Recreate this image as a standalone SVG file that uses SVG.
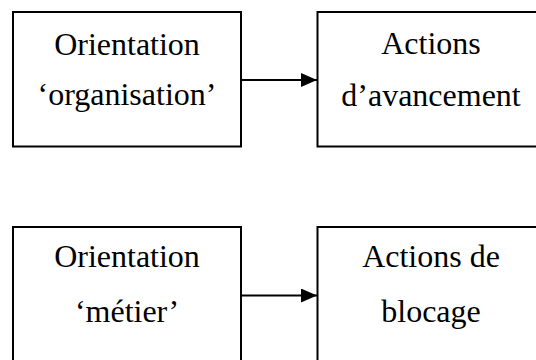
<svg xmlns="http://www.w3.org/2000/svg" width="536" height="360" viewBox="0 0 536 360">
<style>
.box{fill:#fff;stroke:#000;stroke-width:2}
.t{font-family:"Liberation Serif","Times New Roman",serif;font-size:32px;fill:#000;text-anchor:middle}
.c{stroke:#000;stroke-width:2;fill:none}
</style>
<defs>
<marker id="ah" markerUnits="userSpaceOnUse" markerWidth="16" markerHeight="14" refX="16" refY="7" orient="auto">
<path d="M0,0 L16,7 L0,14 Z" fill="#000"/>
</marker>
</defs>
<rect width="536" height="360" fill="#fff"/>
<g id="connectors">
<line class="c" x1="241" y1="80" x2="317" y2="80" marker-end="url(#ah)"/>
<line class="c" x1="241" y1="295.5" x2="317" y2="295.5" marker-end="url(#ah)"/>
</g>
<g id="n1">
<rect class="box" x="13" y="12" width="228" height="134.5"/>
<text class="t" x="127" y="54.5">Orientation</text>
<text class="t" x="127" y="104.5">‘organisation’</text>
</g>
<g id="n2">
<rect class="box" x="317.5" y="12" width="228" height="134.5"/>
<text class="t" x="431" y="54">Actions</text>
<text class="t" x="431" y="106">d’avancement</text>
</g>
<g id="n3">
<rect class="box" x="13" y="227" width="228" height="140"/>
<text class="t" x="127" y="266.5">Orientation</text>
<text class="t" x="127" y="321.5">‘métier’</text>
</g>
<g id="n4">
<rect class="box" x="317.5" y="227" width="228" height="140"/>
<text class="t" x="431" y="266.5">Actions de</text>
<text class="t" x="431" y="321.5">blocage</text>
</g>
</svg>
